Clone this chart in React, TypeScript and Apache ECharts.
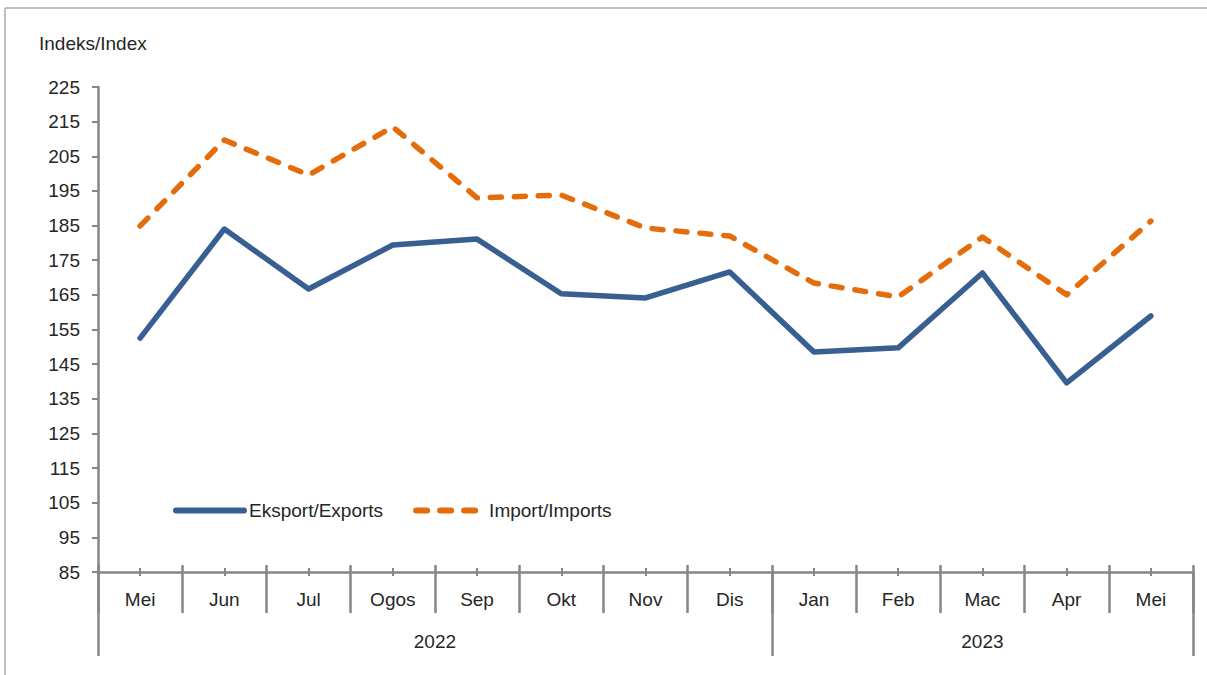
import React, { useEffect, useRef } from "react";
import * as echarts from "echarts";

const months = ["Mei", "Jun", "Jul", "Ogos", "Sep", "Okt", "Nov", "Dis", "Jan", "Feb", "Mac", "Apr", "Mei"];
const exportsIdx = [152.5, 184.0, 166.7, 179.4, 181.1, 165.3, 164.1, 171.6, 148.5, 149.7, 171.3, 139.6, 158.9];
const importsIdx = [184.9, 209.7, 199.6, 213.5, 193.0, 193.8, 184.3, 182.0, 168.4, 164.4, 181.7, 165.0, 186.3];
const years = ["2022", "2023"];
const yearCenters = [4, 10.5];
const yearBounds = [0, 8, 13];

const FONT = "'Liberation Sans Narrow', 'Liberation Sans', Arial, sans-serif";
const AXIS = "#868686";
const TXT = "#262626";

export default function App() {
  const ref = useRef<HTMLDivElement>(null);
  useEffect(() => {
    if (!ref.current) return;
    const chart = echarts.init(ref.current, null, { renderer: "svg" });
    const grid = { left: 98, right: 14, top: 87, bottom: 103 };
    const catBase = {
      type: "category" as const,
      data: months,
      boundaryGap: true,
      gridIndex: 0,
      position: "bottom" as const,
    };
    chart.setOption({
      animation: false,
      backgroundColor: "#fff",
      textStyle: { fontFamily: FONT },
      grid,
      graphic: [
        { type: "line", shape: { x1: 5, y1: 8, x2: 1207, y2: 8 }, style: { stroke: "#BFBFBF", lineWidth: 2 } },
        { type: "line", shape: { x1: 5, y1: 8, x2: 5, y2: 675 }, style: { stroke: "#BFBFBF", lineWidth: 2 } },
        {
          type: "text",
          left: 39,
          top: 34,
          style: { text: "Indeks/Index", fontSize: 19, fill: TXT, fontFamily: FONT },
        },
      ],
      legend: {
        left: 168,
        top: 496,
        itemWidth: 68,
        itemHeight: 22,
        itemGap: 30,
        itemStyle: { opacity: 0 },
        lineStyle: { width: 6 },
        textStyle: { fontSize: 19, color: TXT, fontFamily: FONT },
        data: ["Eksport/Exports", "Import/Imports"],
      },
      xAxis: [
        {
          ...catBase,
          axisLine: { show: true, lineStyle: { color: AXIS, width: 2.5 } },
          axisTick: { show: true, interval: 0, length: 41, lineStyle: { color: AXIS, width: 2.5 } },
          axisLabel: { interval: 0, fontSize: 19, color: TXT, margin: 18, fontFamily: FONT },
          splitLine: { show: false },
        },
        {
          ...catBase,
          axisLine: { show: false },
          axisTick: { show: true, inside: true, interval: 0, length: 7, lineStyle: { color: AXIS, width: 2.5 } },
          axisLabel: { show: false },
        },
        {
          ...catBase,
          axisLine: { show: false },
          axisTick: { show: true, alignWithLabel: true, interval: 0, length: 4, lineStyle: { color: AXIS, width: 2 } },
          axisLabel: { show: false },
        },
        {
          ...catBase,
          axisLine: { show: false },
          axisTick: { show: true, inside: true, alignWithLabel: true, interval: 0, length: 4, lineStyle: { color: AXIS, width: 2 } },
          axisLabel: { show: false },
        },
        {
          type: "value",
          gridIndex: 0,
          position: "bottom",
          min: 0,
          max: 13,
          axisLine: { show: false },
          splitLine: { show: false },
          axisTick: { show: true, customValues: yearBounds, length: 84, lineStyle: { color: AXIS, width: 2.5 } },
          axisLabel: {
            show: true,
            customValues: yearCenters,
            formatter: (v: number) => {
              const i = yearCenters.indexOf(v);
              return i >= 0 ? years[i] : "";
            },
            fontSize: 19,
            color: TXT,
            margin: 60,
            fontFamily: FONT,
          },
        },
      ],
      yAxis: {
        type: "value",
        min: 85,
        max: 225,
        interval: 10,
        axisLine: { show: true, lineStyle: { color: AXIS, width: 2.5 } },
        axisTick: { show: true, length: 6, lineStyle: { color: AXIS, width: 2 } },
        axisLabel: { fontSize: 19, color: TXT, margin: 18, fontFamily: FONT },
        splitLine: { show: false },
      },
      series: [
        {
          name: "Eksport/Exports",
          type: "line",
          data: exportsIdx,
          xAxisIndex: 0,
          symbol: "none",
          lineStyle: { color: "#375F91", width: 5.5, cap: "round", join: "round" },
          itemStyle: { color: "#375F91" },
        },
        {
          name: "Import/Imports",
          type: "line",
          data: importsIdx,
          xAxisIndex: 0,
          symbol: "none",
          lineStyle: { color: "#E46C0A", width: 5.5, type: [11, 13], cap: "round", join: "round" },
          itemStyle: { color: "#E46C0A" },
        },
      ],
    });
    return () => chart.dispose();
  }, []);
  return (
    <div
      ref={ref}
      style={{ position: "absolute", left: 0, top: 0, width: 1207, height: 675 }}
    />
  );
}
